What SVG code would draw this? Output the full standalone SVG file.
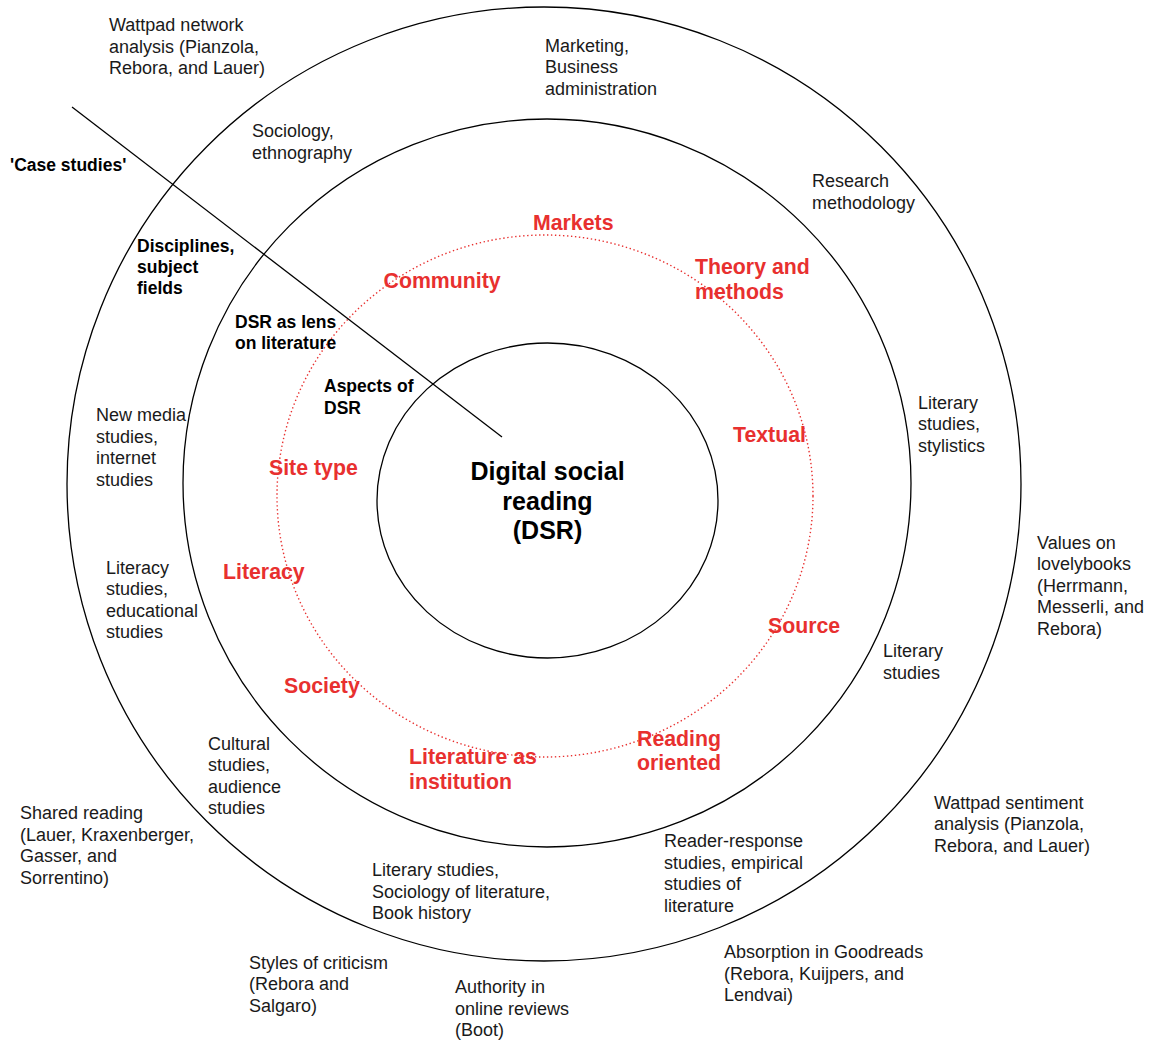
<svg xmlns="http://www.w3.org/2000/svg" width="1155" height="1040" viewBox="0 0 1155 1040">
<style>
.ring{fill:none;stroke:#000;stroke-width:1.3}
.dot{fill:none;stroke:#e8302f;stroke-width:1.4;stroke-dasharray:1.4 2.6}
.t{font-family:"Liberation Sans",Arial,sans-serif;font-size:18px;fill:#1a1a1a}
.b{font-family:"Liberation Sans",Arial,sans-serif;font-size:17.5px;font-weight:bold;fill:#000}
.r{font-family:"Liberation Sans",Arial,sans-serif;font-size:21.3px;font-weight:bold;fill:#e8302f}
.c{font-family:"Liberation Sans",Arial,sans-serif;font-size:25px;font-weight:bold;fill:#000;text-anchor:middle}
</style>
<rect width="1155" height="1040" fill="#fff"/>
<g id="rings">
<circle id="outer-ring" class="ring" cx="544" cy="484" r="477"/>
<circle id="middle-ring" class="ring" cx="547" cy="483" r="364"/>
<ellipse id="aspects-ring" class="dot" cx="545" cy="496" rx="268" ry="261"/>
</g>
<g id="connectors">
<line x1="72" y1="107" x2="502" y2="437" stroke="#000" stroke-width="1.3"/>
</g>
<g id="center">
<ellipse class="ring" cx="547.5" cy="500.5" rx="170.5" ry="157.5"/>
<text class="c" x="547.5"><tspan x="547.5" y="480">Digital social</tspan><tspan x="547.5" y="509.5">reading</tspan><tspan x="547.5" y="539">(DSR)</tspan></text>
</g>
<g id="ring-labels">
<text class="b" x="10" y="171">'Case studies'</text>
<text class="b"><tspan x="137" y="252">Disciplines,</tspan><tspan x="137" y="273">subject</tspan><tspan x="137" y="294">fields</tspan></text>
<text class="b"><tspan x="235" y="328">DSR as lens</tspan><tspan x="235" y="349">on literature</tspan></text>
<text class="b"><tspan x="324" y="392">Aspects of</tspan><tspan x="324" y="413.5">DSR</tspan></text>
</g>
<g id="aspects">
<text id="markets" class="r" x="533" y="230">Markets</text>
<text id="community" class="r" x="383.5" y="288">Community</text>
<text id="theory" class="r"><tspan x="695" y="274">Theory and</tspan><tspan x="695" y="298.5">methods</tspan></text>
<text id="textual" class="r" x="733" y="441.5">Textual</text>
<text id="sitetype" class="r" x="269" y="475">Site type</text>
<text id="literacy" class="r" x="223" y="578.5">Literacy</text>
<text id="source" class="r" x="768" y="632.5">Source</text>
<text id="society" class="r" x="284" y="692.5">Society</text>
<text id="litinst" class="r"><tspan x="409" y="764">Literature as</tspan><tspan x="409" y="788.5">institution</tspan></text>
<text id="reading" class="r"><tspan x="637" y="745.5">Reading</tspan><tspan x="637" y="770">oriented</tspan></text>
</g>
<g id="disciplines">
<text id="marketing" class="t"><tspan x="545" y="51.5">Marketing,</tspan><tspan x="545" y="73">Business</tspan><tspan x="545" y="94.5">administration</tspan></text>
<text id="sociology" class="t"><tspan x="252" y="137">Sociology,</tspan><tspan x="252" y="158.5">ethnography</tspan></text>
<text id="research" class="t"><tspan x="812" y="187">Research</tspan><tspan x="812" y="208.5">methodology</tspan></text>
<text id="newmedia" class="t"><tspan x="96" y="421">New media</tspan><tspan x="96" y="442.5">studies,</tspan><tspan x="96" y="464">internet</tspan><tspan x="96" y="485.5">studies</tspan></text>
<text id="literacystudies" class="t"><tspan x="106" y="573.5">Literacy</tspan><tspan x="106" y="595">studies,</tspan><tspan x="106" y="616.5">educational</tspan><tspan x="106" y="638">studies</tspan></text>
<text id="stylistics" class="t"><tspan x="918" y="408.5">Literary</tspan><tspan x="918" y="430">studies,</tspan><tspan x="918" y="451.5">stylistics</tspan></text>
<text id="literary" class="t"><tspan x="883" y="657">Literary</tspan><tspan x="883" y="678.5">studies</tspan></text>
<text id="cultural" class="t"><tspan x="208" y="749.5">Cultural</tspan><tspan x="208" y="771">studies,</tspan><tspan x="208" y="792.5">audience</tspan><tspan x="208" y="814">studies</tspan></text>
<text id="booknistory" class="t"><tspan x="372" y="876">Literary studies,</tspan><tspan x="372" y="897.5">Sociology of literature,</tspan><tspan x="372" y="919">Book history</tspan></text>
<text id="readerresponse" class="t"><tspan x="664" y="847">Reader-response</tspan><tspan x="664" y="868.5">studies, empirical</tspan><tspan x="664" y="890">studies of</tspan><tspan x="664" y="911.5">literature</tspan></text>
</g>
<g id="case-studies">
<text id="wattpadnet" class="t"><tspan x="109" y="31">Wattpad network</tspan><tspan x="109" y="52.5">analysis (Pianzola,</tspan><tspan x="109" y="74">Rebora, and Lauer)</tspan></text>
<text id="values" class="t"><tspan x="1037" y="548.5">Values on</tspan><tspan x="1037" y="570">lovelybooks</tspan><tspan x="1037" y="591.5">(Herrmann,</tspan><tspan x="1037" y="613">Messerli, and</tspan><tspan x="1037" y="634.5">Rebora)</tspan></text>
<text id="wattpadsent" class="t"><tspan x="934" y="808.5">Wattpad sentiment</tspan><tspan x="934" y="830">analysis (Pianzola,</tspan><tspan x="934" y="851.5">Rebora, and Lauer)</tspan></text>
<text id="shared" class="t"><tspan x="20" y="819">Shared reading</tspan><tspan x="20" y="840.5">(Lauer, Kraxenberger,</tspan><tspan x="20" y="862">Gasser, and</tspan><tspan x="20" y="883.5">Sorrentino)</tspan></text>
<text id="styles" class="t"><tspan x="249" y="968.5">Styles of criticism</tspan><tspan x="249" y="990">(Rebora and</tspan><tspan x="249" y="1011.5">Salgaro)</tspan></text>
<text id="authority" class="t"><tspan x="455" y="993">Authority in</tspan><tspan x="455" y="1014.5">online reviews</tspan><tspan x="455" y="1036">(Boot)</tspan></text>
<text id="absorption" class="t"><tspan x="724" y="958">Absorption in Goodreads</tspan><tspan x="724" y="979.5">(Rebora, Kuijpers, and</tspan><tspan x="724" y="1001">Lendvai)</tspan></text>
</g>
</svg>
